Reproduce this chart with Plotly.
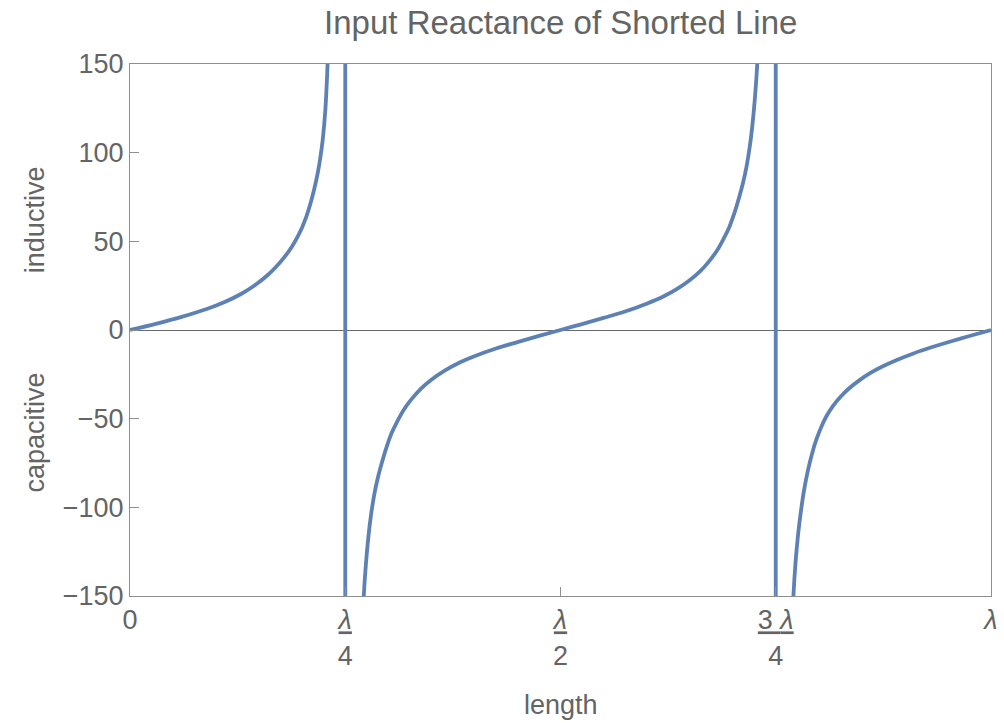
import plotly.graph_objects as go

# Line length in wavelengths and input reactance (ohms), one pair per branch.
len_a = [0.0, 0.03, 0.06, 0.09, 0.11, 0.13, 0.145, 0.16, 0.17, 0.18, 0.188,
         0.195, 0.20, 0.205, 0.21, 0.214, 0.218, 0.221, 0.224, 0.227,
         0.2295, 0.2305]
react_a = [0, 3.5, 7.4, 12.0, 15.8, 20.6, 25.2, 31.0, 35.8, 41.5, 47.0,
           53.0, 58.0, 64.2, 72.0, 79.5, 88.5, 97, 108, 125,
           150, 162]

len_b = [0.2705, 0.2715, 0.274, 0.277, 0.28, 0.284, 0.288, 0.293, 0.298,
         0.304, 0.31, 0.318, 0.327, 0.338, 0.35, 0.365, 0.38, 0.40, 0.425,
         0.45, 0.475, 0.50,
         0.525, 0.55, 0.575, 0.60, 0.62, 0.635, 0.65, 0.662, 0.673, 0.682,
         0.69, 0.696, 0.702, 0.707, 0.712, 0.716, 0.72, 0.723, 0.726,
         0.7285, 0.7295]
react_b = [-162, -150, -132, -116, -104, -92, -83, -74, -66,
           -58, -52, -45, -39, -33, -28, -23, -19, -14.8, -10.4,
           -6.8, -3.35, 0,
           3.35, 6.8, 10.4, 14.8, 19, 23, 28, 33, 39, 45,
           52, 58, 66, 74, 83, 92, 104, 116, 132,
           150, 162]

len_d = [0.7695, 0.7705, 0.773, 0.776, 0.779, 0.783, 0.787, 0.792, 0.797,
         0.803, 0.809, 0.817, 0.825, 0.835, 0.847, 0.86, 0.875, 0.89, 0.91,
         0.93, 0.95, 0.975, 1.0]
react_d = [-162, -150, -131, -115, -103, -90, -80, -70, -62,
           -54.5, -48.5, -42.5, -37.8, -33.0, -28.4, -24.2, -20.3, -17.0, -13.2,
           -9.9, -6.9, -3.4, 0]

# Jumps at the quarter-wave poles, drawn as connecting segments.
pole_len = [0.25, 0.75]
pole_span = [162, -162]

tick_vals = [0, 0.25, 0.5, 0.75, 1]
tick_text = ["0",
             "<u><i>λ</i></u><br>4",
             "<u><i>λ</i></u><br>2",
             "<u>3 <i>λ</i></u><br>4",
             "<i>λ</i>"]
y_ticks = [-150, -100, -50, 0, 50, 100, 150]

xs, ys = [], []
xs += len_a + [None]
ys += react_a + [None]
xs += [pole_len[0], pole_len[0], None]
ys += pole_span + [None]
xs += len_b + [None]
ys += react_b + [None]
xs += [pole_len[1], pole_len[1], None]
ys += pole_span + [None]
xs += len_d
ys += react_d

FONT = "Liberation Sans, Arial, sans-serif"
TEXT = "#646464"
FRAME = "#8f8f8f"

fig = go.Figure()
fig.add_trace(go.Scatter(
    x=xs, y=ys, mode="lines",
    line=dict(color="#5e81b5", width=3.8, shape="spline", smoothing=1.0),
    connectgaps=False, hoverinfo="skip", showlegend=False,
))

fig.update_layout(
    width=1004, height=723,
    margin=dict(l=130, r=13, t=64, b=127),
    paper_bgcolor="white", plot_bgcolor="white",
    font=dict(family=FONT, size=27, color=TEXT),
    title=dict(text="Input Reactance of Shorted Line", x=0.5585, xanchor="center",
               y=0.985, yanchor="top", yref="container",
               font=dict(size=33, color=TEXT, family=FONT)),
    xaxis=dict(range=[0, 1], tickvals=tick_vals, ticktext=tick_text,
               ticks="inside", ticklen=9, tickwidth=1, tickcolor=FRAME,
               showline=True, linecolor=FRAME, linewidth=1, mirror=True,
               showgrid=False, zeroline=False, automargin=False,
               tickfont=dict(size=27, color=TEXT, family=FONT)),
    yaxis=dict(range=[-150, 150], tickvals=y_ticks,
               ticks="inside", ticklen=9, tickwidth=1, tickcolor=FRAME,
               showline=True, linecolor=FRAME, linewidth=1, mirror=True,
               showgrid=False, zeroline=True, zerolinecolor="#6a6a6a",
               zerolinewidth=1, automargin=False,
               tickfont=dict(size=27, color=TEXT, family=FONT)),
    annotations=[
        dict(text="inductive", xref="paper", yref="paper", x=-0.11, y=0.707,
             xanchor="center", yanchor="middle", textangle=-90, showarrow=False,
             font=dict(size=27, color=TEXT, family=FONT)),
        dict(text="capacitive", xref="paper", yref="paper", x=-0.11, y=0.308,
             xanchor="center", yanchor="middle", textangle=-90, showarrow=False,
             font=dict(size=27, color=TEXT, family=FONT)),
        dict(text="length", xref="paper", yref="paper", x=0.5, y=-0.205,
             xanchor="center", yanchor="middle", showarrow=False,
             font=dict(size=27, color=TEXT, family=FONT)),
    ],
)

fig.write_html("out.html")
